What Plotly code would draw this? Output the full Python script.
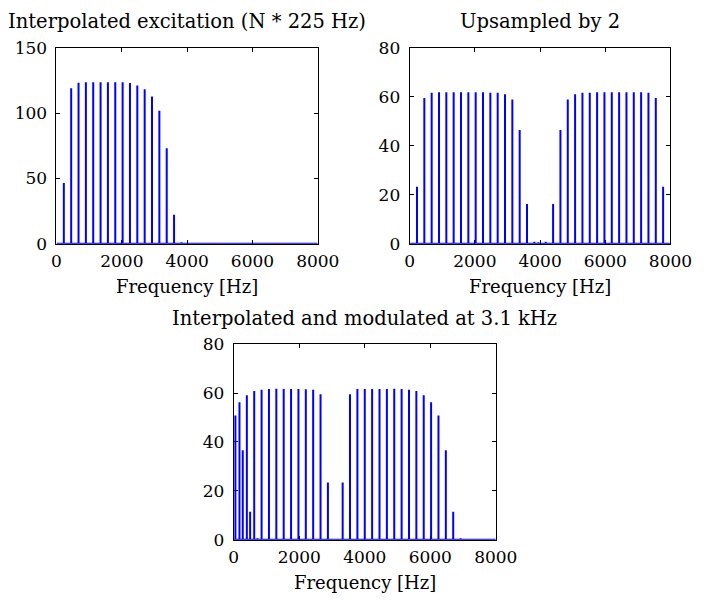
import plotly.graph_objects as go

# ---------------- data ----------------
# Top-left: interpolated excitation, harmonics at N*225 Hz
f_exc = [225, 450, 675, 900, 1125, 1350, 1575, 1800, 2025, 2250, 2475, 2700,
         2925, 3150, 3375, 3600, 3825, 4050]
a_exc = [46.5, 119.1, 123.3, 123.8, 123.8, 123.8, 123.8, 123.8, 123.8, 123.1,
         121.3, 118.4, 112.9, 101.8, 73.1, 22.2, 1.0, 0.4]

# Top-right: upsampled by 2 (spectrum plus its image around 4 kHz)
f_up = [225, 450, 675, 900, 1125, 1350, 1575, 1800, 2025, 2250, 2475, 2700,
        2925, 3150, 3375, 3600, 3825, 3950, 4175, 4400, 4625, 4850, 5075, 5300,
        5525, 5750, 5975, 6200, 6425, 6650, 6875, 7100, 7325, 7550, 7775]
a_up = [23.3, 59.6, 61.7, 61.9, 61.9, 61.9, 61.9, 61.9, 61.9, 61.9, 61.7, 61.7,
        61.1, 58.9, 46.5, 16.2, 0.8, 0.6, 0.8, 16.2, 46.5, 58.9, 61.1, 61.7,
        61.7, 61.9, 61.9, 61.9, 61.9, 61.9, 61.9, 61.9, 61.7, 59.6, 23.3]

# Bottom: interpolated and modulated at 3.1 kHz
f_mod = [50, 175, 275, 400, 500, 625, 725, 850, 1075, 1300, 1525, 1750, 1975,
         2200, 2425, 2650, 2875, 3325, 3550, 3775, 4000, 4225, 4450, 4675, 4900,
         5125, 5350, 5575, 5800, 6025, 6250, 6475, 6700, 6925]
a_mod = [50.8, 56.2, 36.6, 59.1, 11.5, 60.8, 0.6, 61.3, 61.7, 61.8, 61.7, 61.7,
         61.7, 61.5, 61.3, 59.5, 23.4, 23.4, 59.5, 61.7, 61.7, 61.7, 61.7, 61.7,
         61.8, 61.7, 61.3, 60.8, 59.1, 56.2, 50.8, 36.6, 11.5, 0.6]

f_max = 8000
titles = ["Interpolated excitation (N * 225 Hz)", "Upsampled by 2",
          "Interpolated and modulated at 3.1 kHz"]
xlabel = "Frequency [Hz]"
x_ticks = [0, 2000, 4000, 6000, 8000]
y_ticks_exc = [0, 50, 100, 150]
y_ticks_up = [0, 20, 40, 60, 80]


def spikes(freqs, amps):
    xs, ys = [0], [0]
    for f, a in sorted(zip(freqs, amps)):
        xs += [f, f, f]
        ys += [0, a, 0]
    xs.append(f_max)
    ys.append(0)
    return xs, ys


W, H = 717, 602
FONT = "DejaVu Serif"
BLUE = "#0000ff"

# axes boxes in pixels (left, right, top, bottom)
boxes = [(53.5, 325.0, 39.3, 241.7),
         (420.5, 691.5, 39.3, 241.7),
         (237.7, 510.0, 345.6, 548.0)]

fig = go.Figure()
datasets = [(f_exc, a_exc), (f_up, a_up), (f_mod, a_mod)]
yranges = [[0, 150], [0, 80], [0, 80]]
yticks = [y_ticks_exc, y_ticks_up, y_ticks_up]

for i, ((fs, amps), box) in enumerate(zip(datasets, boxes)):
    xs, ys = spikes(fs, amps)
    n = "" if i == 0 else str(i + 1)
    fig.add_trace(go.Scatter(x=xs, y=ys, mode="lines",
                             line=dict(color=BLUE, width=2),
                             xaxis="x" + n, yaxis="y" + n,
                             showlegend=False, hoverinfo="skip"))
    l, r, t, b = box
    common = dict(showline=True, linecolor="black", linewidth=1,
                  mirror="ticks", ticks="inside", ticklen=4, tickwidth=1,
                  tickcolor="black", showgrid=False, zeroline=False,
                  layer="below traces",
                  tickfont=dict(family=FONT, size=17, color="black"))
    fig.layout["xaxis" + n] = dict(
        domain=[l / W, r / W], range=[0, f_max], tickvals=x_ticks,
        anchor="y" + n, ticklabelstandoff=2, **common)
    fig.layout["yaxis" + n] = dict(
        domain=[1 - b / H, 1 - t / H], range=yranges[i], tickvals=yticks[i],
        anchor="x" + n, ticklabelstandoff=5, **common)
    cx = (l + r) / 2 / W
    fig.add_annotation(text=titles[i], x=cx, y=1 - (t - 27) / H,
                       xref="paper", yref="paper", showarrow=False,
                       xanchor="center", yanchor="middle",
                       font=dict(family=FONT, size=19.5, color="black"))
    fig.add_annotation(text=xlabel, x=cx, y=1 - (b + 44) / H,
                       xref="paper", yref="paper", showarrow=False,
                       xanchor="center", yanchor="middle",
                       font=dict(family=FONT, size=18, color="black"))

fig.update_layout(width=W, height=H, autosize=False,
                  margin=dict(l=0, r=0, t=0, b=0),
                  paper_bgcolor="white", plot_bgcolor="white",
                  font=dict(family=FONT))

fig.write_html("out.html")
